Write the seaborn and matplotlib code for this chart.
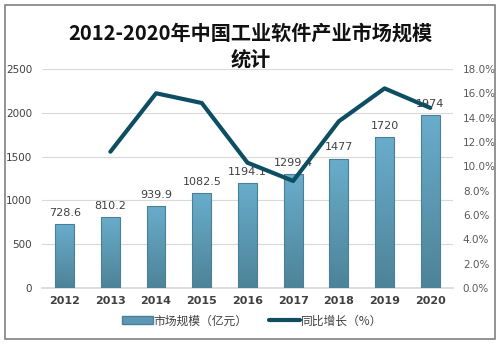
import numpy as np
import pandas as pd
import matplotlib
matplotlib.use("Agg")
import matplotlib.pyplot as plt
import seaborn as sns
from matplotlib.patches import Rectangle
from matplotlib.lines import Line2D
from matplotlib.ticker import FuncFormatter

years = ["2012", "2013", "2014", "2015", "2016", "2017", "2018", "2019", "2020"]
market = [728.6, 810.2, 939.9, 1082.5, 1194.1, 1299.4, 1477, 1720, 1974]
market_labels = ["728.6", "810.2", "939.9", "1082.5", "1194.1", "1299.4", "1477", "1720", "1974"]
growth = [np.nan, 11.2, 16.0, 15.2, 10.3, 8.8, 13.7, 16.4, 14.8]

sns.set_theme(style="white")
plt.rcParams['font.family'] = ['DejaVu Sans', 'Noto Sans CJK SC']

df = pd.DataFrame({"year": years, "market": market, "growth": growth})

fig = plt.figure(figsize=(5.04, 3.48), dpi=100)
ax = fig.add_axes([0.083, 0.172, 0.816, 0.630])

sns.barplot(data=df, x="year", y="market", ax=ax, width=0.41,
            color="#5c98b3", edgecolor="#4a7f95", linewidth=0.8, zorder=3)

# gradient fill on bars
grad = np.linspace(0, 1, 256).reshape(-1, 1)
top = np.array([0x69, 0xad, 0xcb]) / 255
bot = np.array([0x4d, 0x83, 0x98]) / 255
img = (bot[None, None, :] * (1 - grad[..., None]) + top[None, None, :] * grad[..., None])
for p in ax.patches:
    x0, y0 = p.get_x(), p.get_y()
    w, h = p.get_width(), p.get_height()
    im = ax.imshow(img, extent=[x0, x0 + w, y0, y0 + h], origin="lower",
                   aspect="auto", zorder=3.5)
    im.set_clip_path(p)
    p.set_facecolor("none")
    p.set_zorder(4)

ax.set_xlim(-0.5, len(years) - 0.5)
ax.set_ylim(0, 2500)
ax.set_yticks([0, 500, 1000, 1500, 2000, 2500])
ax.yaxis.grid(True, color="#d9d9d9", linewidth=0.8, zorder=0)
ax.set_axisbelow(True)
for s in ["top", "right", "left"]:
    ax.spines[s].set_visible(False)
ax.spines["bottom"].set_color("#d9d9d9")
ax.set_xlabel("")
ax.set_ylabel("")
ax.tick_params(axis="y", length=0, pad=7, labelsize=7.5, labelcolor="#404040")
ax.tick_params(axis="x", length=0, pad=6, labelsize=8, labelcolor="#404040")
for t in ax.get_xticklabels():
    t.set_fontweight("bold")

for i, (v, lab) in enumerate(zip(market, market_labels)):
    ax.text(i, v + 70, lab, ha="center", va="bottom", fontsize=8, color="#404040", zorder=6)

ax2 = ax.twinx()
sns.lineplot(data=df, x="year", y="growth", ax=ax2, color="#0d4e62", linewidth=3,
             zorder=5, sort=False)
ax2.set_ylim(0, 18)
ax2.set_yticks(np.arange(0, 18.1, 2))
ax2.yaxis.set_major_formatter(FuncFormatter(lambda v, p: f"{v:.1f}%"))
ax2.tick_params(axis="y", length=0, pad=7, labelsize=7.5, labelcolor="#595959")
ax2.set_ylabel("")
for s in ["top", "right", "left", "bottom"]:
    ax2.spines[s].set_visible(False)
ax2.grid(False)
ax.set_zorder(0)
ax2.set_zorder(1)
ax2.patch.set_visible(False)

fig.text(0.497, 0.905, "2012-2020年中国工业软件产业市场规模", ha="center", va="center",
         fontsize=14.5, fontweight="bold", family=["Noto Sans CJK SC", "DejaVu Sans"], color="#111111")
fig.text(0.497, 0.83, "统计", ha="center", va="center",
         fontsize=14.5, fontweight="bold", family=["Noto Sans CJK SC", "DejaVu Sans"], color="#111111")

handles = [Rectangle((0, 0), 1, 1, facecolor="#5c98b3", edgecolor="#4a7f95"),
           Line2D([0], [0], color="#0d4e62", linewidth=3)]
fig.legend(handles, ["市场规模（亿元）", "同比增长（%）"], loc="center",
           bbox_to_anchor=(0.5, 0.078), ncol=2, frameon=False,
           prop={"family": ["Noto Sans CJK SC", "DejaVu Sans"], "size": 8.5},
           handlelength=2.6, handleheight=0.7, handletextpad=0.1, columnspacing=1.8,
           labelcolor="#404040")

border = Rectangle((0.01, 0.025), 0.972, 0.962, transform=fig.transFigure,
                   fill=False, edgecolor="#808080", linewidth=1.2)
fig.patches.append(border)

fig.savefig("out.png", dpi=100)
